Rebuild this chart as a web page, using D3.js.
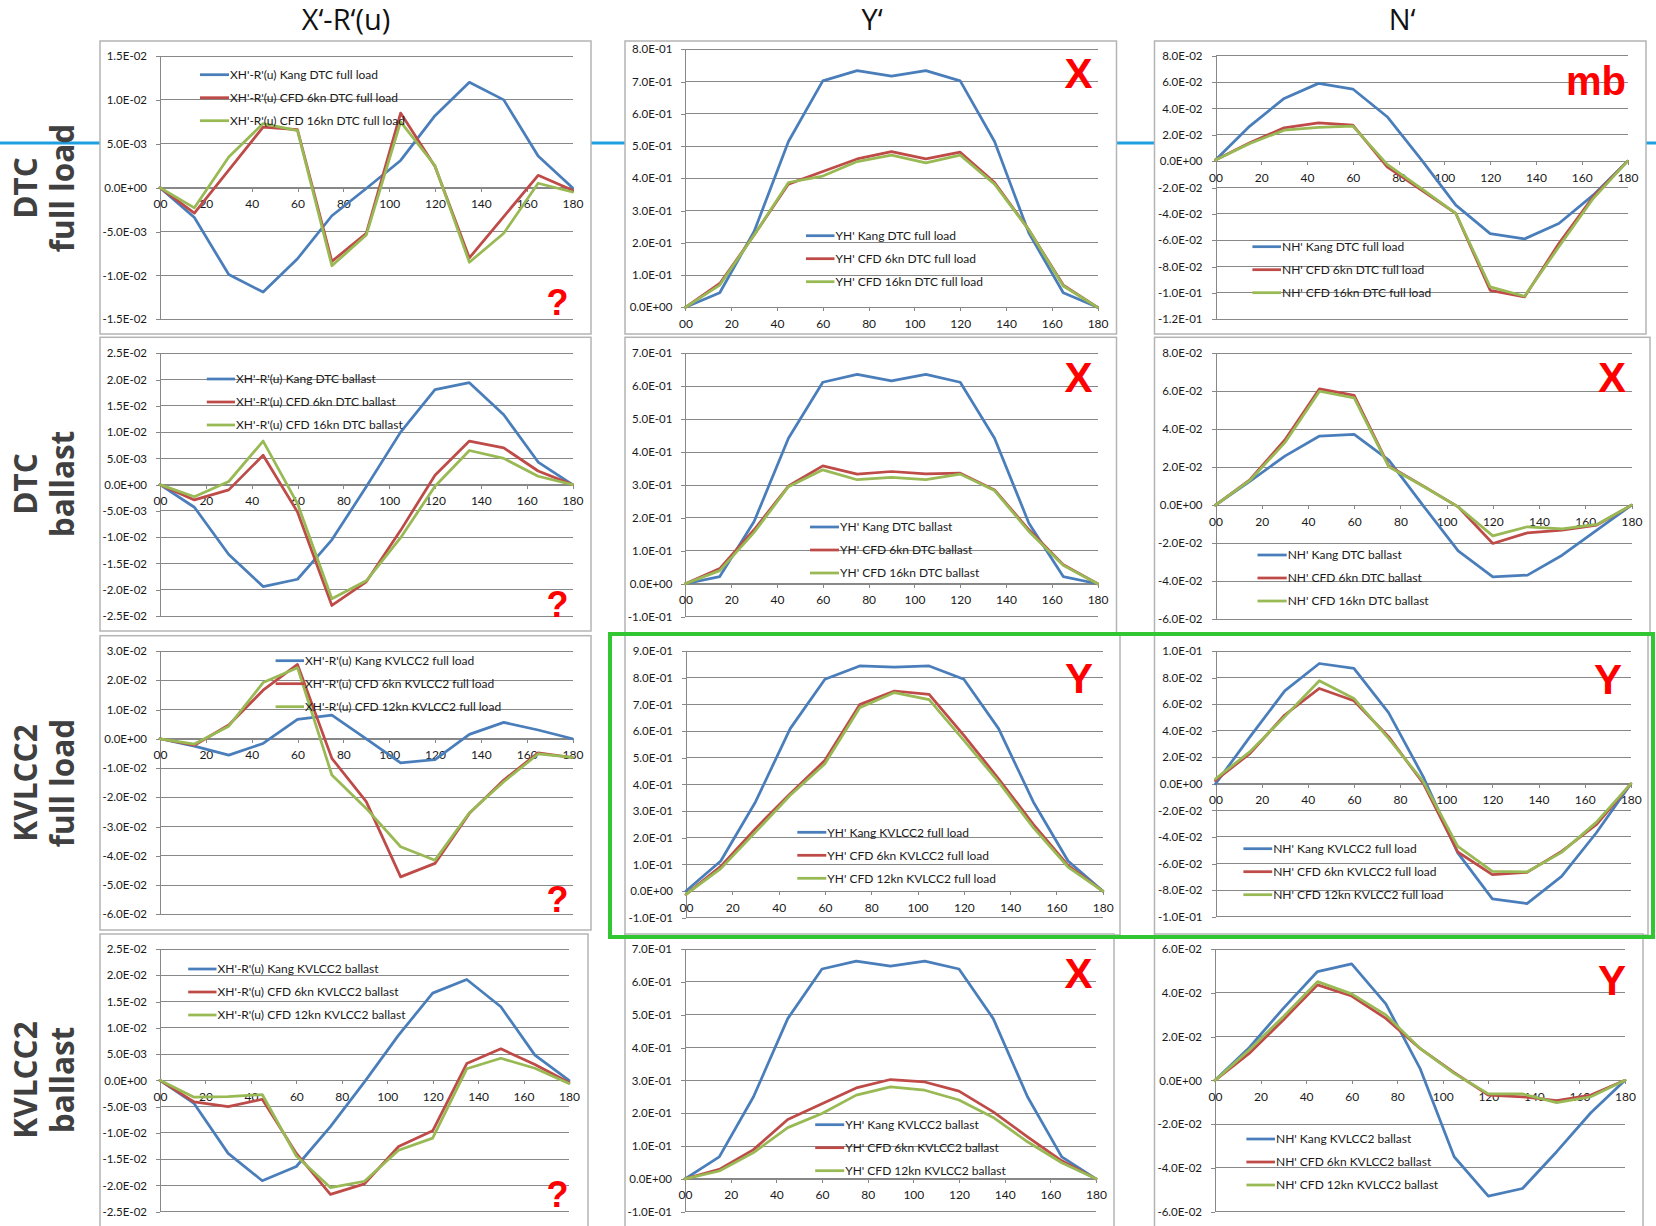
<!DOCTYPE html>
<html><head><meta charset="utf-8">
<script src="https://cdn.jsdelivr.net/npm/d3@7"></script>
<style>
html,body{margin:0;padding:0;background:#fff;}
svg{display:block;}
</style></head>
<body>
<svg id="c" width="1656" height="1226"></svg>
<script>
// ---------- DATA ----------
const angles = [0,15,30,45,60,75,90,105,120,135,150,165,180];
const xTicks = [0,20,40,60,80,100,120,140,160,180];

const columnTitles = ["X\u2018-R\u2018(u)", "Y\u2018", "N\u2018"];
const rowLabels = [["DTC","full load"],["DTC","ballast"],["KVLCC2","full load"],["KVLCC2","ballast"]];
const verdicts = [["?","X","mb"],["?","X","X"],["?","Y","Y"],["?","X","Y"]];

// Row 1: DTC full load
const xr_dtcFull_kang = [0,-0.0034,-0.0099,-0.0119,-0.0081,-0.0032,-0.0001,0.0031,0.0082,0.0120,0.0100,0.0036,0];
const xr_dtcFull_6kn  = [0,-0.0029,0.0020,0.0069,0.0066,-0.0084,-0.0052,0.0085,0.0024,-0.0080,-0.0033,0.0014,-0.0003];
const xr_dtcFull_16kn = [0,-0.0023,0.0035,0.0073,0.0065,-0.0089,-0.0054,0.0075,0.0025,-0.0085,-0.0052,0.0005,-0.0005];
const y_dtcFull_kang  = [0,0.045,0.235,0.514,0.702,0.734,0.717,0.734,0.702,0.514,0.230,0.045,0];
const y_dtcFull_6kn   = [0,0.074,0.224,0.382,0.421,0.460,0.483,0.460,0.481,0.387,0.240,0.069,0];
const y_dtcFull_16kn  = [0,0.069,0.224,0.387,0.407,0.452,0.472,0.448,0.472,0.382,0.240,0.066,0];
const n_dtcFull_kang  = [0.0008,0.0266,0.0476,0.0590,0.0547,0.0337,0.0010,-0.0334,-0.0550,-0.0590,-0.0473,-0.0258,0];
const n_dtcFull_6kn   = [0.0008,0.0140,0.0253,0.0290,0.0273,-0.0043,-0.0220,-0.0397,-0.0980,-0.1030,-0.0625,-0.0270,0];
const n_dtcFull_16kn  = [0.0008,0.0134,0.0235,0.0256,0.0266,-0.0025,-0.0208,-0.0397,-0.0954,-0.1025,-0.0650,-0.0284,0];

// Row 2: DTC ballast
const xr_dtcBal_kang = [0,-0.0043,-0.0133,-0.0194,-0.0180,-0.0105,-0.0004,0.0100,0.0181,0.0194,0.0133,0.0043,0];
const xr_dtcBal_6kn  = [0,-0.0029,-0.0010,0.0056,-0.0052,-0.0230,-0.0185,-0.0087,0.0018,0.0083,0.0070,0.0026,0];
const xr_dtcBal_16kn = [0,-0.0023,0.0006,0.0083,-0.0036,-0.0217,-0.0183,-0.0101,-0.0003,0.0065,0.0050,0.0016,0];
const y_dtcBal_kang  = [0,0.022,0.189,0.442,0.612,0.636,0.616,0.636,0.612,0.442,0.184,0.022,0];
const y_dtcBal_6kn   = [0,0.046,0.164,0.297,0.358,0.333,0.341,0.334,0.336,0.285,0.164,0.058,0];
const y_dtcBal_16kn  = [0,0.040,0.156,0.295,0.346,0.316,0.323,0.316,0.333,0.283,0.159,0.056,0];
const n_dtcBal_kang  = [0,0.0127,0.0258,0.0364,0.0373,0.0237,-0.0005,-0.0241,-0.0378,-0.0369,-0.0264,-0.0132,0];
const n_dtcBal_6kn   = [0,0.0135,0.0343,0.0613,0.0578,0.0206,0.0100,-0.0009,-0.0202,-0.0146,-0.0132,-0.0105,0];
const n_dtcBal_16kn  = [0,0.0132,0.0329,0.0600,0.0565,0.0202,0.0098,-0.0009,-0.0162,-0.0114,-0.0125,-0.0102,0];

// Row 3: KVLCC2 full load
const xr_kvFull_kang = [0,-0.0025,-0.0056,-0.0016,0.0066,0.0081,0.0000,-0.0082,-0.0071,0.0015,0.0056,0.0030,0];
const xr_kvFull_6kn  = [0,-0.0022,0.0047,0.0166,0.0254,-0.0067,-0.0215,-0.0472,-0.0426,-0.0255,-0.0141,-0.0048,-0.0064];
const xr_kvFull_12kn = [0,-0.0018,0.0043,0.0192,0.0243,-0.0124,-0.0238,-0.0369,-0.0415,-0.0253,-0.0147,-0.0052,-0.0064];
const y_kvFull_kang  = [0,0.1125,0.334,0.609,0.794,0.844,0.840,0.844,0.794,0.609,0.334,0.1125,0];
const y_kvFull_6kn   = [-0.0125,0.0925,0.234,0.365,0.490,0.699,0.750,0.7375,0.584,0.421,0.250,0.096,0];
const y_kvFull_12kn  = [-0.0125,0.084,0.221,0.359,0.4775,0.6875,0.744,0.7175,0.565,0.409,0.2375,0.090,0];
const n_kvFull_kang  = [0,0.0355,0.0700,0.0906,0.0869,0.0536,0.0055,-0.0520,-0.0866,-0.0901,-0.0696,-0.0370,0];
const n_kvFull_6kn   = [0.0025,0.0230,0.0518,0.0718,0.0626,0.0355,0.0005,-0.0513,-0.0683,-0.0666,-0.0508,-0.0308,0];
const n_kvFull_12kn  = [0.0038,0.0243,0.0506,0.0776,0.0643,0.0343,0.0018,-0.0470,-0.0658,-0.0663,-0.0516,-0.0290,0];

// Row 4: KVLCC2 ballast
const xr_kvBal_kang = [0,-0.0044,-0.0139,-0.0191,-0.0164,-0.0088,-0.0003,0.0086,0.0166,0.0192,0.0140,0.0048,0];
const xr_kvBal_6kn  = [0,-0.0041,-0.0050,-0.0036,-0.0139,-0.0217,-0.0197,-0.0126,-0.0096,0.0032,0.0060,0.0030,-0.0004];
const xr_kvBal_12kn = [0,-0.0032,-0.0031,-0.0027,-0.0144,-0.0204,-0.0192,-0.0133,-0.0110,0.0022,0.0042,0.0023,-0.0006];
const y_kvBal_kang  = [0,0.067,0.250,0.488,0.639,0.663,0.648,0.663,0.639,0.488,0.250,0.067,0];
const y_kvBal_6kn   = [0,0.029,0.089,0.181,0.229,0.277,0.3025,0.295,0.267,0.204,0.128,0.055,0];
const y_kvBal_12kn  = [0,0.024,0.080,0.156,0.199,0.255,0.280,0.270,0.240,0.187,0.113,0.049,0];
const n_kvBal_kang  = [0,0.0149,0.0329,0.0497,0.0532,0.0349,0.0055,-0.0349,-0.0529,-0.0494,-0.0326,-0.0148,0];
const n_kvBal_6kn   = [0,0.0123,0.0276,0.0436,0.0385,0.0283,0.0146,0.0035,-0.0067,-0.0075,-0.0093,-0.0067,0];
const n_kvBal_12kn  = [0,0.0139,0.0291,0.0451,0.0395,0.0299,0.0146,0.0032,-0.0062,-0.0062,-0.0102,-0.0075,0];

// Legend labels
const legends = [
 [["XH'-R'(u) Kang DTC full load","XH'-R'(u) CFD 6kn DTC full load","XH'-R'(u) CFD 16kn DTC full load"],
  ["YH' Kang DTC full load","YH' CFD 6kn DTC full load","YH' CFD 16kn DTC full load"],
  ["NH' Kang DTC full load","NH' CFD 6kn DTC full load","NH' CFD 16kn DTC full load"]],
 [["XH'-R'(u) Kang DTC ballast","XH'-R'(u) CFD 6kn DTC ballast","XH'-R'(u) CFD 16kn DTC ballast"],
  ["YH' Kang DTC ballast","YH' CFD 6kn DTC ballast","YH' CFD 16kn DTC ballast"],
  ["NH' Kang DTC ballast","NH' CFD 6kn DTC ballast","NH' CFD 16kn DTC ballast"]],
 [["XH'-R'(u) Kang KVLCC2 full load","XH'-R'(u) CFD 6kn KVLCC2 full load","XH'-R'(u) CFD 12kn KVLCC2 full load"],
  ["YH' Kang KVLCC2 full load","YH' CFD 6kn KVLCC2 full load","YH' CFD 12kn KVLCC2 full load"],
  ["NH' Kang KVLCC2 full load","NH' CFD 6kn KVLCC2 full load","NH' CFD 12kn KVLCC2 full load"]],
 [["XH'-R'(u) Kang KVLCC2 ballast","XH'-R'(u) CFD 6kn KVLCC2 ballast","XH'-R'(u) CFD 12kn KVLCC2 ballast"],
  ["YH' Kang KVLCC2 ballast","YH' CFD 6kn KVLCC2 ballast","YH' CFD 12kn KVLCC2 ballast"],
  ["NH' Kang KVLCC2 ballast","NH' CFD 6kn KVLCC2 ballast","NH' CFD 12kn KVLCC2 ballast"]]
];

// y-axis ranges [min, max, step]
const yRanges = [
 [[-0.015,0.015,0.005],[0,0.8,0.1],[-0.12,0.08,0.02]],
 [[-0.025,0.025,0.005],[-0.1,0.7,0.1],[-0.06,0.08,0.02]],
 [[-0.06,0.03,0.01],[-0.1,0.9,0.1],[-0.1,0.1,0.02]],
 [[-0.025,0.025,0.005],[-0.1,0.7,0.1],[-0.06,0.06,0.02]]
];

const seriesData = [
 [[xr_dtcFull_kang,xr_dtcFull_6kn,xr_dtcFull_16kn],[y_dtcFull_kang,y_dtcFull_6kn,y_dtcFull_16kn],[n_dtcFull_kang,n_dtcFull_6kn,n_dtcFull_16kn]],
 [[xr_dtcBal_kang,xr_dtcBal_6kn,xr_dtcBal_16kn],[y_dtcBal_kang,y_dtcBal_6kn,y_dtcBal_16kn],[n_dtcBal_kang,n_dtcBal_6kn,n_dtcBal_16kn]],
 [[xr_kvFull_kang,xr_kvFull_6kn,xr_kvFull_12kn],[y_kvFull_kang,y_kvFull_6kn,y_kvFull_12kn],[n_kvFull_kang,n_kvFull_6kn,n_kvFull_12kn]],
 [[xr_kvBal_kang,xr_kvBal_6kn,xr_kvBal_12kn],[y_kvBal_kang,y_kvBal_6kn,y_kvBal_12kn],[n_kvBal_kang,n_kvBal_6kn,n_kvBal_12kn]]
];

// ---------- LAYOUT / STYLE ----------
const colors = ["#4A7EBB","#BE4B48","#98B954"];
const FONT = "Lato, 'Open Sans', sans-serif";

// per-panel geometry: box [x0,y0,x1,y1], plot [xl,xr,yt,yb], legend [lineX,textX,y0]
const layout = [
 [{box:[100,41,591,334],plot:[160,572.5,56,319.3],leg:[200,230,74.7]},
  {box:[625,41,1116.5,334],plot:[685.4,1097.6,49.3,307.3],leg:[806,835.5,235.7]},
  {box:[1154.5,41,1646,334],plot:[1215.5,1627.5,55.7,319.3],leg:[1252.4,1282,246.7]}],
 [{box:[100,337.3,591,631],plot:[160,572.5,353.3,616],leg:[206.8,236,379]},
  {box:[625,337.3,1116.5,634],plot:[685.4,1097.6,353.3,616.7],leg:[810,840,527]},
  {box:[1154.5,337.3,1650,634],plot:[1215.5,1631.5,353.3,619],leg:[1257.5,1287.7,555]}],
 [{box:[100,635.7,591,930],plot:[160,572.5,651,914.3],leg:[275.6,305,660.7]},
  {box:[625,634,1120,935],plot:[686,1102.8,651,917.7],leg:[797.3,827.3,832.3]},
  {box:[1154.5,634,1648,935],plot:[1215.5,1630.8,651,916.7],leg:[1243.4,1273.2,848.7]}],
 [{box:[100,934,588,1230],plot:[160,569,949,1211.7],leg:[188.2,217.5,969]},
  {box:[625,934,1114,1230],plot:[685,1096,949,1211.7],leg:[815.2,845.2,1124.7]},
  {box:[1154.5,934,1643,1230],plot:[1215,1625,949,1211.7],leg:[1246.4,1276,1139]}]
];
// verdict positions [x, baseline, size]
const verdictPos = [
 [[557.5,315,36],[1078.6,88,42],[1596,95,40]],
 [[557.5,617,36],[1078.6,392,42],[1612,392,42]],
 [[557.5,912,36],[1079,693,42],[1608,694,42]],
 [[557.5,1207,36],[1078.6,988,42],[1612,995,42]]
];

function sci(v){
  v = +v.toFixed(10);
  if (v === 0) return "0.0E+00";
  const a = Math.abs(v);
  let e = Math.floor(Math.log10(a) + 1e-9);
  let m = v / Math.pow(10, e);
  let ms = m.toFixed(1);
  if (Math.abs(parseFloat(ms)) >= 10) { e += 1; ms = (v/Math.pow(10,e)).toFixed(1); }
  return ms + "E" + (e < 0 ? "-" : "+") + String(Math.abs(e)).padStart(2,"0");
}

const svg = d3.select("#c");
svg.append("rect").attr("width",1656).attr("height",1226).attr("fill","#fff");

// background blue line
svg.append("line").attr("x1",0).attr("x2",1656).attr("y1",143).attr("y2",143)
  .attr("stroke","#1E9FDF").attr("stroke-width",3);

// column titles
const titleX = [346, 872, 1402];
columnTitles.forEach((t,i)=>{
  svg.append("text").attr("x",titleX[i]).attr("y",30).attr("text-anchor","middle")
    .attr("font-family","'Open Sans', sans-serif").attr("font-size",29).attr("fill","#111").text(t);
});

// row labels
const rowCenters = [188, 484, 783, 1080];
rowLabels.forEach((lab,i)=>{
  const g = svg.append("g").attr("transform",`translate(0,${rowCenters[i]}) rotate(-90)`);
  g.append("text").attr("x",0).attr("y",37).attr("text-anchor","middle")
    .attr("font-family","'Open Sans', sans-serif").attr("font-weight",700).attr("font-size",31.5)
    .attr("fill","#404040").text(lab[0]);
  g.append("text").attr("x",0).attr("y",74).attr("text-anchor","middle")
    .attr("font-family","'Open Sans', sans-serif").attr("font-weight",700).attr("font-size",31.5)
    .attr("fill","#404040").text(lab[1]);
});

const gridColor = "#888";

for (let r=0; r<4; r++){
  for (let c=0; c<3; c++){
    const L = layout[r][c];
    const [bx0,by0,bx1,by1] = L.box;
    const [pxl,pxr,pyt,pyb] = L.plot;
    const [ymin,ymax,ystep] = yRanges[r][c];
    const g = svg.append("g");
    g.append("rect").attr("x",bx0).attr("y",by0).attr("width",bx1-bx0).attr("height",by1-by0)
      .attr("fill","#fff").attr("stroke","#b4b4b4").attr("stroke-width",1.5);

    const x = d3.scaleLinear().domain([0,180]).range([pxl,pxr]);
    const y = d3.scaleLinear().domain([ymin,ymax]).range([pyb,pyt]);
    const yTicks = d3.range(0, Math.round((ymax-ymin)/ystep)+1).map(k=>+(ymin+k*ystep).toFixed(10));

    // gridlines
    g.append("g").selectAll("line").data(yTicks).join("line")
      .attr("x1",pxl).attr("x2",pxr).attr("y1",d=>y(d)).attr("y2",d=>y(d))
      .attr("stroke",gridColor).attr("stroke-width",1).attr("shape-rendering","crispEdges");

    // y axis
    const ya = g.append("g").attr("transform",`translate(${pxl},0)`)
      .call(d3.axisLeft(y).tickValues(yTicks).tickFormat(sci).tickSize(4).tickSizeOuter(0).tickPadding(9));
    ya.select(".domain").attr("stroke",gridColor).attr("shape-rendering","crispEdges");
    ya.selectAll(".tick line").attr("stroke",gridColor).attr("shape-rendering","crispEdges");
    ya.selectAll("text").attr("font-family",FONT).attr("font-size",11.5).attr("fill","#1a1a1a");

    // x axis at zero
    const xa = g.append("g").attr("transform",`translate(0,${y(0)})`)
      .call(d3.axisBottom(x).tickValues(xTicks).tickFormat(d3.format("02d")).tickSize(4).tickSizeOuter(0).tickPadding(8));
    xa.select(".domain").attr("stroke",gridColor).attr("shape-rendering","crispEdges");
    xa.selectAll(".tick line").attr("stroke",gridColor).attr("shape-rendering","crispEdges");
    xa.selectAll("text").attr("font-family",FONT).attr("font-size",12).attr("fill","#1a1a1a");

    // series lines
    const line = d3.line().x((d,i)=>x(angles[i])).y(d=>y(d));
    seriesData[r][c].forEach((s,k)=>{
      g.append("path").datum(s).attr("d",line).attr("fill","none")
        .attr("stroke",colors[k]).attr("stroke-width",2.75)
        .attr("stroke-linejoin","round").attr("stroke-linecap","round");
    });

    // legend
    const [lx,tx,ly0] = L.leg;
    legends[r][c].forEach((t,k)=>{
      const yy = ly0 + k*23;
      g.append("line").attr("x1",lx).attr("x2",tx-1).attr("y1",yy).attr("y2",yy)
        .attr("stroke",colors[k]).attr("stroke-width",2.75);
      g.append("text").attr("x",tx).attr("y",yy).attr("dy","0.35em")
        .attr("font-family",FONT).attr("font-size",12).attr("fill","#1a1a1a").text(t);
    });

    // verdict mark
    const [vx,vy,vs] = verdictPos[r][c];
    g.append("text").attr("x",vx).attr("y",vy).attr("text-anchor","middle")
      .attr("font-family","'Liberation Sans', Arial, sans-serif").attr("font-weight",700)
      .attr("font-size",vs).attr("fill","#FF0000").text(verdicts[r][c]);
  }
}

// green highlight box
svg.append("rect").attr("x",610).attr("y",634).attr("width",1653-610).attr("height",937-634)
  .attr("fill","none").attr("stroke","#33C633").attr("stroke-width",4);
</script>
</body></html>
